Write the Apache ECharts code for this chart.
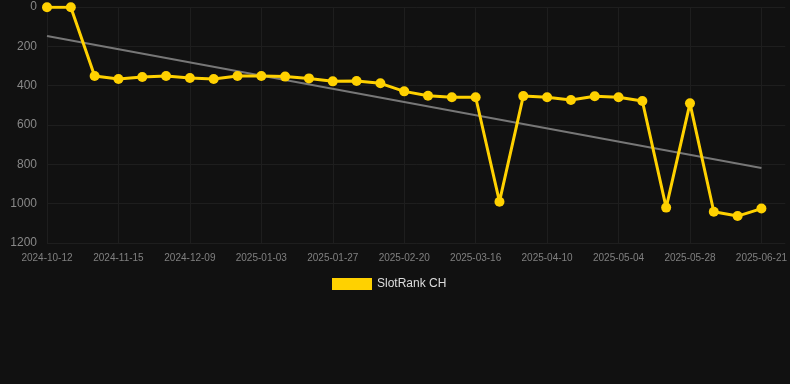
<!DOCTYPE html>
<html>
<head>
<meta charset="utf-8">
<script src="https://cdn.jsdelivr.net/npm/echarts@6/dist/echarts.min.js"></script>
<style>
html,body{margin:0;padding:0;background:#111111;}
#chart{width:790px;height:384px;}
</style>
</head>
<body>
<div id="chart"></div>
<script>
var categories = ["2024-10-12","2024-10-25","2024-11-07","2024-11-15","2024-11-23","2024-12-01","2024-12-09","2024-12-17","2024-12-25","2025-01-03","2025-01-11","2025-01-19","2025-01-27","2025-02-04","2025-02-12","2025-02-20","2025-02-28","2025-03-08","2025-03-16","2025-03-24","2025-04-02","2025-04-10","2025-04-18","2025-04-26","2025-05-04","2025-05-12","2025-05-20","2025-05-28","2025-06-05","2025-06-13","2025-06-21"];
var rankValues = [1,1,351,366,356,351,361,366,351,351,354,363,378,376,388,429,451,459,459,990,453,459,473,454,459,478,1020,490,1041,1063,1025];
var trendStart = 147;
var trendEnd = 819;
var yTicks = [0,200,400,600,800,1000,1200];

var chart = echarts.init(document.getElementById('chart'), null, {renderer:'canvas'});
var trendData = categories.map(function(c,i){
  if (i === 0) return trendStart;
  if (i === categories.length-1) return trendEnd;
  return null;
});
chart.setOption({
  backgroundColor:'#111111',
  animation:false,
  grid:{left:47,right:0,top:7,bottom:141,containLabel:false},
  legend:{
    data:['SlotRank CH'],
    top:273,left:327,
    itemWidth:40,itemHeight:12,itemGap:10,
    textStyle:{color:'#dddddd',fontSize:12,fontFamily:'Arial, Liberation Sans, sans-serif'},
    icon:'rect'
  },
  xAxis:{
    type:'category',
    data:categories,
    boundaryGap:false,
    max:31.18,
    axisLine:{show:false},
    axisTick:{show:false},
    axisLabel:{color:'#808080',fontSize:10,interval:2,margin:10,fontFamily:'Arial, Liberation Sans, sans-serif'},
    splitLine:{show:true,interval:2,lineStyle:{color:'#1e1e1e',width:1}}
  },
  yAxis:{
    type:'value',
    inverse:true,
    min:yTicks[0],max:yTicks[yTicks.length-1],interval:200,
    axisLine:{show:false},
    axisTick:{show:false},
    axisLabel:{color:'#888888',fontSize:12,margin:10,fontFamily:'Arial, Liberation Sans, sans-serif',
      formatter:function(v){return String(v);}},
    splitLine:{show:true,lineStyle:{color:'#1e1e1e',width:1}}
  },
  series:[
    {
      name:'SlotRank CH',
      type:'line',
      data:rankValues,
      symbol:'circle',
      symbolSize:10,
      lineStyle:{color:'#FFD100',width:3},
      itemStyle:{color:'#FFD100'},
      z:3
    },
    {
      name:'trend',
      type:'line',
      data:trendData,
      connectNulls:true,
      symbol:'none',
      lineStyle:{color:'#777777',width:2},
      itemStyle:{color:'#777777'},
      z:2
    }
  ]
});
</script>
</body>
</html>
